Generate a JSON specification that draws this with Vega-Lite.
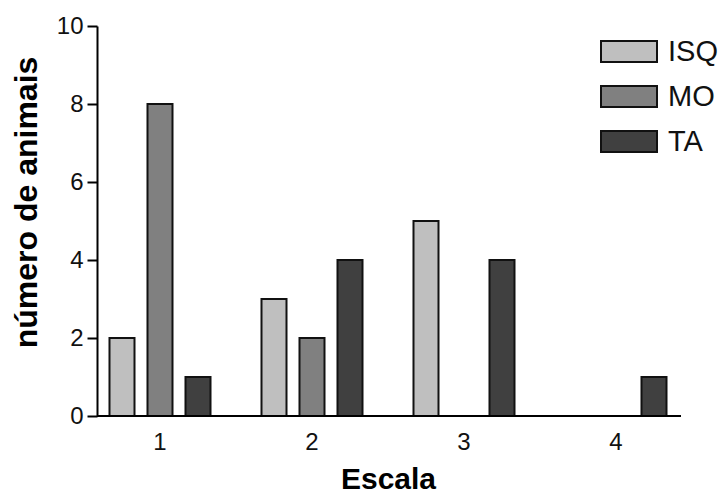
{
  "$schema": "https://vega.github.io/schema/vega-lite/v6.json",
  "width": 584,
  "height": 390,
  "autosize": {"type": "none"},
  "padding": {"left": 97, "top": 26, "right": 41, "bottom": 78},
  "background": "white",
  "config": {
    "view": {"stroke": null},
    "font": "Liberation Sans",
    "axis": {"grid": false, "labelFont": "Liberation Sans", "titleFont": "Liberation Sans", "labelColor": "#111", "titleColor": "#000", "domainColor": "#000", "tickColor": "#000"}
  },
  "layer": [
    {
      "data": {"values": [
        {"Escala": "1", "grupo": "ISQ", "n": 2},
        {"Escala": "1", "grupo": "MO", "n": 8},
        {"Escala": "1", "grupo": "TA", "n": 1},
        {"Escala": "2", "grupo": "ISQ", "n": 3},
        {"Escala": "2", "grupo": "MO", "n": 2},
        {"Escala": "2", "grupo": "TA", "n": 4},
        {"Escala": "3", "grupo": "ISQ", "n": 5},
        {"Escala": "3", "grupo": "TA", "n": 4},
        {"Escala": "4", "grupo": "TA", "n": 1}
      ]},
      "mark": {"type": "bar", "stroke": "#111", "strokeWidth": 2},
      "encoding": {
        "x": {
          "field": "Escala", "type": "nominal",
          "scale": {"domain": ["1", "2", "3", "4"], "range": [-13, 595], "paddingInner": 0, "paddingOuter": 0},
          "axis": {"title": "Escala", "labelAngle": 0, "labelFontSize": 24, "ticks": false, "tickSize": 0, "domain": false, "labelPadding": 14, "titleFontSize": 30, "titleFontWeight": "bold", "titlePadding": 10}
        },
        "xOffset": {
          "field": "grupo", "type": "nominal",
          "scale": {"domain": ["ISQ", "MO", "TA"], "paddingInner": 0.342, "paddingOuter": 0.671}
        },
        "y": {
          "field": "n", "type": "quantitative",
          "scale": {"domain": [0, 10], "nice": false},
          "axis": {"title": "número de animais", "values": [0, 2, 4, 6, 8, 10], "labelFontSize": 24, "tickSize": 10, "tickWidth": 2, "domainWidth": 2, "labelPadding": 4, "titleFontSize": 32, "titleFontWeight": "bold", "titleAngle": -90, "titleAlign": "center", "titleBaseline": "alphabetic", "titleX": -61, "titleY": 176}
        },
        "color": {
          "field": "grupo", "type": "nominal",
          "scale": {"domain": ["ISQ", "MO", "TA"], "range": ["#bfbfbf", "#808080", "#404040"]},
          "legend": {
            "title": null, "orient": "none", "legendX": 503, "legendY": 3,
            "padding": 0, "rowPadding": 0, "clipHeight": 45,
            "symbolType": "M-1,-0.375 H1 V0.375 H-1 Z", "symbolSize": 3136,
            "symbolStrokeColor": "#111", "symbolStrokeWidth": 2,
            "labelFont": "Liberation Sans", "labelFontSize": 29, "labelColor": "#111", "labelOffset": 10
          }
        }
      }
    },
    {
      "data": {"values": [{"base": 0}]},
      "mark": {"type": "rule", "stroke": "#000", "strokeWidth": 2},
      "encoding": {"y": {"field": "base", "type": "quantitative"}}
    }
  ]
}
